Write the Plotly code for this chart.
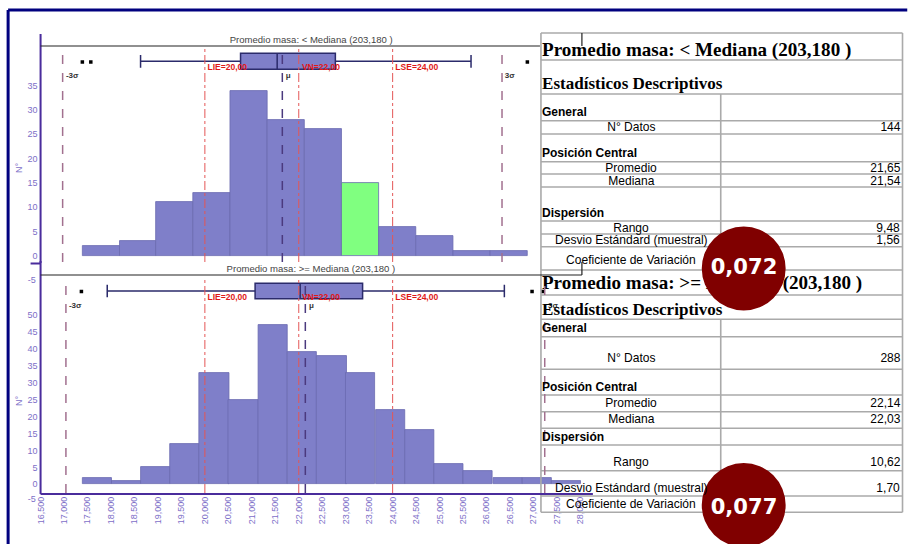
import plotly.graph_objects as go

W, H = 908, 544

# ---------------- data ----------------
top_bin_left = [17.39, 18.18, 18.97, 19.76, 20.55, 21.34, 22.13, 22.92, 23.71, 24.50, 25.29, 26.08]
top_bin_width = 0.79
top_counts = [2, 3, 11, 13, 34, 28, 26, 15, 6, 4, 1, 1]
top_highlight = 7

bot_bin_left = [17.39, 18.01, 18.64, 19.26, 19.89, 20.51, 21.14, 21.76, 22.39,
                23.01, 23.64, 24.26, 24.89, 25.51, 26.14, 26.76, 27.39]
bot_bin_width = 0.6247
bot_counts = [2, 1, 5, 12, 33, 25, 47, 39, 38, 33, 22, 16, 6, 4, 2, 2, 1]

top_box = dict(lowerfence=18.63, q1=20.76, median=21.54, q3=22.78, upperfence=25.67)
top_outliers = [17.39, 17.57, 26.87]
bot_box = dict(lowerfence=17.92, q1=21.07, median=22.03, q3=23.36, upperfence=26.38)
bot_outliers = [17.37, 26.97, 27.20]

spec_names = ["LIE", "VN", "LSE"]
spec_values = [20.00, 22.00, 24.00]
top_mean, top_sd = 21.65, 1.56
bot_mean, bot_sd = 22.14, 1.70

x_tick_values = [16.5, 17.0, 17.5, 18.0, 18.5, 19.0, 19.5, 20.0, 20.5, 21.0, 21.5, 22.0,
                 22.5, 23.0, 23.5, 24.0, 24.5, 25.0, 25.5, 26.0, 26.5, 27.0, 27.5, 28.0]
top_y_ticks = [0, 5, 10, 15, 20, 25, 30, 35]
bot_y_ticks = [0, 5, 10, 15, 20, 25, 30, 35, 40, 45, 50]

top_title = "Promedio masa: < Mediana (203,180 )"
bot_title = "Promedio masa: >= Mediana (203,180 )"
top_stats = [("N° Datos", "144"), ("Promedio", "21,65"), ("Mediana", "21,54"),
             ("Rango", "9,48"), ("Desvio Estándard (muestral)", "1,56"),
             ("Coeficiente de Variación", "")]
bot_stats = [("N° Datos", "288"), ("Promedio", "22,14"), ("Mediana", "22,03"),
             ("Rango", "10,62"), ("Desvio Estándard (muestral)", "1,70"),
             ("Coeficiente de Variación", "")]
top_cv = "0,072"
bot_cv = "0,077"

# ---------------- styling ----------------
BAR = "#7f7fc9"
BAR_EDGE = "#6a6ab0"
GREEN = "#80ff80"
AXIS = "#4a2c9c"
TICK = "#7d6fc8"
SIGMA = "#a2708f"
MU = "#4b3a7e"
RED = "#e45656"
NAVY = "#00007f"
GRID = "#aaaaaa"
SANS = "Liberation Sans"
SERIF = "Liberation Serif"

def fy(py):
    return 1 - py / H

PXU = 47.0  # pixels per x unit
top_zero, top_ppu = 255.7, 4.857
bot_zero, bot_ppu = 484.3, 3.386

def ty(py):  # pixel -> top data
    return (top_zero - py) / top_ppu

def by(py):
    return (bot_zero - py) / bot_ppu

fig = go.Figure()

# ---- histograms ----
top_colors = [GREEN if i == top_highlight else BAR for i in range(len(top_counts))]
fig.add_trace(go.Bar(
    x=[l + top_bin_width / 2 for l in top_bin_left], y=top_counts, width=top_bin_width,
    marker=dict(color=top_colors, line=dict(color=BAR_EDGE, width=0.8)),
    xaxis="x", yaxis="y", showlegend=False))
fig.add_trace(go.Bar(
    x=[l + bot_bin_width / 2 for l in bot_bin_left], y=bot_counts, width=bot_bin_width,
    marker=dict(color=BAR, line=dict(color=BAR_EDGE, width=0.8)),
    xaxis="x2", yaxis="y2", showlegend=False))

# ---- box plots ----
for box, pos, wdt, xa, ya in [(top_box, ty(61.3), 16 / top_ppu, "x", "y"),
                              (bot_box, by(291), 15.4 / bot_ppu, "x2", "y2")]:
    fig.add_trace(go.Box(
        y=[pos], q1=[box["q1"]], median=[box["median"]], q3=[box["q3"]],
        lowerfence=[box["lowerfence"]], upperfence=[box["upperfence"]],
        orientation="h", width=wdt, whiskerwidth=0.8, boxpoints=False,
        fillcolor=BAR, line=dict(color="#2b2b6b", width=1.5),
        xaxis=xa, yaxis=ya, showlegend=False, hoverinfo="skip"))

fig.add_trace(go.Scatter(x=top_outliers, y=[ty(62)] * len(top_outliers), mode="markers",
                         marker=dict(color="black", size=3.5, symbol="square"),
                         xaxis="x", yaxis="y", showlegend=False))
fig.add_trace(go.Scatter(x=bot_outliers, y=[by(291.5)] * len(bot_outliers), mode="markers",
                         marker=dict(color="black", size=3.5, symbol="square"),
                         xaxis="x2", yaxis="y2", showlegend=False))

shapes = []
annotations = []

# ---- reference lines ----
def vlines(mean, sd, xr, yr, y0, y1, ylab_sigma, ylab_spec):
    for v, lab in [(mean - 3 * sd, "-3σ"), (mean + 3 * sd, "3σ")]:
        shapes.append(dict(type="line", xref=xr, yref=yr, x0=v, x1=v, y0=y0, y1=y1,
                           line=dict(color=SIGMA, width=1.5, dash="dash"), layer="above"))
        annotations.append(dict(x=v, y=ylab_sigma, xref=xr, yref=yr, text=f"<b>{lab}</b>",
                                showarrow=False, xanchor="left", xshift=1,
                                font=dict(family=SANS, size=8, color="#333")))
    shapes.append(dict(type="line", xref=xr, yref=yr, x0=mean, x1=mean, y0=y0, y1=y1,
                       line=dict(color=MU, width=1.5, dash="dash"), layer="above"))
    annotations.append(dict(x=mean, y=ylab_sigma, xref=xr, yref=yr, text="<b>μ</b>", showarrow=False,
                            xanchor="left", xshift=2, font=dict(family=SANS, size=8, color="#333")))
    for n, v in zip(spec_names, spec_values):
        shapes.append(dict(type="line", xref=xr, yref=yr, x0=v, x1=v, y0=y0, y1=y1,
                           line=dict(color=RED, width=1, dash="dashdot"), layer="above"))
        annotations.append(dict(x=v, y=ylab_spec, xref=xr, yref=yr,
                                text=f"<b>{n}={v:.2f}".replace(".", ",") + "</b>",
                                showarrow=False, xanchor="left", xshift=1,
                                font=dict(family=SANS, size=8.5, color="#e01818")))

vlines(top_mean, top_sd, "x", "y", ty(262), ty(48), ty(75), ty(67))
vlines(bot_mean, bot_sd, "x2", "y2", by(493), by(277), by(305), by(296.5))

# ---- chart frames (pixel overlay axes x3/y3) ----
def pline(x0, y0, x1, y1, color, width, layer="above"):
    shapes.append(dict(type="line", xref="x3", yref="y3", x0=x0, y0=y0, x1=x1, y1=y1,
                       line=dict(color=color, width=width), layer=layer))

# outer slide frame
pline(7.5, 10, 908, 10, NAVY, 3)
pline(7.5, 10, 7.5, 544, NAVY, 3)
# top chart
pline(40, 34, 40, 263, AXIS, 2)
pline(40, 46, 540, 46, "#222", 1.2)
pline(582, 33, 582, 46, "#222", 1.2)
# bottom chart
pline(30, 263.5, 40, 263.5, AXIS, 2)
pline(40, 261, 40, 494, AXIS, 2)
pline(40, 275, 582, 275, "#222", 1.2)
pline(582, 262, 582, 275, "#222", 1.2)
pline(40, 494, 593, 494, AXIS, 2)

annotations.append(dict(x=311, y=39, xref="x3", yref="y3", text=top_title, showarrow=False,
                        font=dict(family=SANS, size=9.5, color="#444")))
annotations.append(dict(x=311, y=268.5, xref="x3", yref="y3", text=bot_title, showarrow=False,
                        font=dict(family=SANS, size=9.5, color="#444")))
for yy in (167, 400):
    annotations.append(dict(x=18, y=yy, xref="x3", yref="y3", text="N°", showarrow=False,
                            textangle=-90, font=dict(family=SANS, size=9, color=TICK)))
annotations.append(dict(x=37, y=280, xref="x3", yref="y3", text="-5", showarrow=False,
                        xanchor="right", font=dict(family=SANS, size=9, color=TICK)))
annotations.append(dict(x=37, y=499, xref="x3", yref="y3", text="-5", showarrow=False,
                        xanchor="right", font=dict(family=SANS, size=9, color=TICK)))

# ---- tables ----
TL, TR, TC = 541, 903, 721

def table(rows_y, top_y, div_from, bottom_y, title, title_y, est_y, heads, stats, stat_ys,
          title_as_trace=False):
    for yy in rows_y:
        pline(TL, yy, TR, yy, GRID, 1.6, "below")
    pline(TL, top_y, TL, bottom_y, GRID, 1.6, "below")
    pline(TR, top_y, TR, bottom_y, GRID, 1.6, "below")
    pline(TC, div_from, TC, bottom_y, GRID, 1.6, "below")
    if title_as_trace:
        fig.add_trace(go.Scatter(x=[TL + 1], y=[title_y], mode="text", text=[title],
                                 textposition="middle right", cliponaxis=False,
                                 textfont=dict(family=SERIF, size=19, color="black", weight="bold"),
                                 xaxis="x3", yaxis="y3", showlegend=False, hoverinfo="skip"))
    else:
        annotations.append(dict(x=TL - 1, y=title_y, xref="x3", yref="y3", text=f"<b>{title}</b>",
                                showarrow=False, xanchor="left",
                                font=dict(family=SERIF, size=19, color="black")))
    annotations.append(dict(x=TL - 1, y=est_y, xref="x3", yref="y3",
                            text="<b>Estadísticos Descriptivos</b>", showarrow=False,
                            xanchor="left", font=dict(family=SERIF, size=17, color="black")))
    for lab, yy in heads:
        annotations.append(dict(x=TL - 1, y=yy, xref="x3", yref="y3", text=f"<b>{lab}</b>",
                                showarrow=False, xanchor="left",
                                font=dict(family=SANS, size=12, color="black")))
    for (lab, val), yy in zip(stats, stat_ys):
        annotations.append(dict(x=(TL + TC) / 2, y=yy, xref="x3", yref="y3", text=lab,
                                showarrow=False, font=dict(family=SANS, size=12, color="black")))
        if val:
            annotations.append(dict(x=TR, y=yy, xref="x3", yref="y3", text=val,
                                    showarrow=False, xanchor="right",
                                    font=dict(family=SANS, size=12, color="black")))

table([33, 60, 94, 120.7, 134, 161.7, 174, 187, 221, 234, 246.7, 270], 33, 94, 270,
      top_title, 50, 83, [("General", 111.5), ("Posición Central", 152.5), ("Dispersión", 212.5)],
      top_stats, [127, 167.5, 180.5, 227.5, 240, 259.5])
table([295, 319.3, 336.7, 369.3, 395, 411.7, 428.3, 445, 470.7, 496, 512.3], 270, 319.3, 512.3,
      bot_title, 284.5, 309.5, [("General", 328.3), ("Posición Central", 386.5), ("Dispersión", 436.5)],
      bot_stats, [358.3, 402.7, 419.3, 461.5, 488.3, 504], title_as_trace=True)

# ---- CV circles ----
for cx, cy, r, txt, tyy in [(744, 268.5, 42, top_cv, 266.5), (744, 505, 42, bot_cv, 506.5)]:
    shapes.append(dict(type="circle", xref="x3", yref="y3", x0=cx - r, x1=cx + r,
                       y0=cy - r, y1=cy + r, fillcolor="#800000", line=dict(width=0),
                       layer="above"))
    annotations.append(dict(x=cx, y=tyy, xref="x3", yref="y3", text=f"<b>{txt}</b>",
                            showarrow=False, font=dict(family="DejaVu Sans", size=21, color="white")))

x_tick_text = [f"{v:.3f}".replace(".", ",") for v in x_tick_values]

fig.update_layout(
    width=W, height=H, autosize=False,
    margin=dict(l=0, r=0, t=0, b=0),
    paper_bgcolor="white", plot_bgcolor="rgba(0,0,0,0)",
    bargap=0, showlegend=False,
    shapes=shapes, annotations=annotations,
    xaxis=dict(domain=[40 / W, 582 / W], range=[16.5, 16.5 + 542 / PXU], anchor="y",
               showticklabels=False, showgrid=False, zeroline=False, showline=False, fixedrange=True),
    yaxis=dict(domain=[fy(263), fy(35)], range=[ty(263), ty(35)], anchor="x",
               tickvals=top_y_ticks, showgrid=False, zeroline=False, showline=False,
               tickfont=dict(family=SANS, size=9, color=TICK), ticks="", ticklabelstandoff=2),
    xaxis2=dict(domain=[40 / W, 593 / W], range=[16.5, 16.5 + 553 / PXU], anchor="y2",
                tickvals=x_tick_values, ticktext=x_tick_text, tickangle=-90,
                tickfont=dict(family=SANS, size=9, color=TICK), ticks="",
                showgrid=False, zeroline=False, showline=False),
    yaxis2=dict(domain=[fy(494), fy(263)], range=[by(494), by(263)], anchor="x2",
                tickvals=bot_y_ticks, showgrid=False, zeroline=False, showline=False,
                tickfont=dict(family=SANS, size=9, color=TICK), ticks="", ticklabelstandoff=2),
    xaxis3=dict(domain=[0, 1], range=[0, W], anchor="y3", visible=False, fixedrange=True),
    yaxis3=dict(domain=[0, 1], range=[H, 0], anchor="x3", visible=False, fixedrange=True),
)

fig.write_html(
    "out.html",
    config={"displayModeBar": False},
    post_script=(
        "document.body.style.margin='0';document.body.style.overflow='hidden';"
        "var g=document.querySelector('.plotly-graph-div');"
        "g.style.transformOrigin='0 0';g.style.transform='translateX(-4.4px) scaleX(1.0043)';"
    ),
)
